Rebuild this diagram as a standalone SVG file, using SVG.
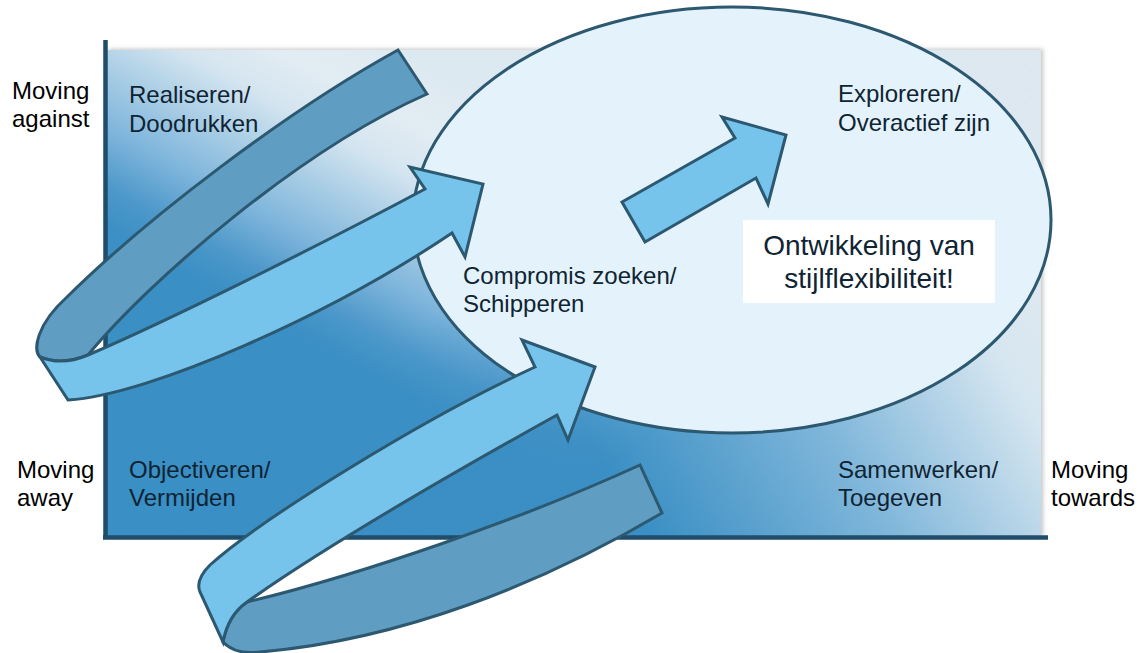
<svg xmlns="http://www.w3.org/2000/svg" width="1141" height="653" viewBox="0 0 1141 653">
<defs>
<style>
.lbl{font-family:"Liberation Sans",Arial,sans-serif;font-size:24px;fill:#0f2433}
.out{font-family:"Liberation Sans",Arial,sans-serif;font-size:24px;fill:#000}
.big{font-family:"Liberation Sans",Arial,sans-serif;font-size:28px;fill:#0f2433;text-anchor:middle}
.light{fill:#76c3ec;stroke:#2c5870;stroke-width:3;stroke-linejoin:miter}
.dark{fill:#5f9ec2;stroke:#2c5870;stroke-width:3;stroke-linejoin:miter}
.axis{stroke:#1f4d6a;stroke-width:4.5;fill:none}
</style>
<linearGradient id="bgBase" gradientUnits="userSpaceOnUse" x1="650" y1="540" x2="1045" y2="300">
<stop offset="0" stop-color="#3a8fc4"/>
<stop offset="0.45" stop-color="#7fb6da"/>
<stop offset="0.85" stop-color="#d6e6f0"/>
<stop offset="1" stop-color="#dde8f0"/>
</linearGradient>
<linearGradient id="bgTop" gradientUnits="userSpaceOnUse" x1="38" y1="192" x2="182" y2="-72">
<stop offset="0" stop-color="#3a8fc4"/>
<stop offset="0.123" stop-color="#4d98ca"/>
<stop offset="0.3" stop-color="#80b6dc"/>
<stop offset="0.467" stop-color="#a8cde5"/>
<stop offset="0.643" stop-color="#d5e5f0"/>
<stop offset="0.8" stop-color="#e2ecf3"/>
<stop offset="1" stop-color="#dde9f1"/>
</linearGradient>
<linearGradient id="mg" gradientUnits="userSpaceOnUse" x1="450" y1="300" x2="600" y2="480">
<stop offset="0" stop-color="#fff"/>
<stop offset="1" stop-color="#000"/>
</linearGradient>
<mask id="topMask" maskUnits="userSpaceOnUse" x="0" y="0" width="1141" height="653">
<rect x="0" y="0" width="1141" height="653" fill="url(#mg)"/>
</mask>
<filter id="sh" x="-5%" y="-5%" width="110%" height="110%">
<feDropShadow dx="2" dy="-1" stdDeviation="2" flood-color="#888" flood-opacity="0.5"/>
</filter>
</defs>

<g id="background">
<rect x="107" y="50" width="934" height="487" fill="url(#bgBase)" filter="url(#sh)"/>
<rect x="107" y="50" width="934" height="487" fill="url(#bgTop)" mask="url(#topMask)"/>
</g>

<g id="axes">
<line class="axis" x1="105.5" y1="40" x2="105.5" y2="539"/>
<line class="axis" x1="103" y1="537.5" x2="1048" y2="537.5"/>
</g>

<g id="ellipse-node">
<ellipse cx="732" cy="220" rx="319" ry="213" fill="#e4f2fb" stroke="#2c5870" stroke-width="3"/>
</g>

<g id="connectors">
<g id="arrow-top">
<path class="dark" d="M398,50 L427,94 C300,150 150,280 88,355 Q62,366 40,357 C33,350 36,325 67,297 C145,220 285,112 398,50 Z"/>
<path class="light" d="M425,189 C320,245 170,320 88,355 Q62,366 40,357 L68,400 C150,395 330,315 452,233 L465,257 L483,184 L410,167 Z"/>
</g>
<g id="arrow-bottom">
<path class="dark" d="M223,642 Q235,655 260,652 C400,640 540,585 662,513 L640,465 C520,520 360,575 247,602 Q228,615 223,642 Z"/>
<path class="light" d="M535,367 C420,420 260,520 210,565 Q195,580 200,592 L223,642 Q228,615 247,602 C320,550 440,480 557,415 L568,440 L595,367 L522,340 Z"/>
</g>
<g id="arrow-middle">
<path class="light" d="M622,202 L735,138 L722,117 L786,135 L768,204 L756,178 L645,242 Z"/>
</g>
</g>

<g id="axis-labels">
<text class="out" x="12" y="99">Moving</text>
<text class="out" x="12" y="127">against</text>
<text class="out" x="17" y="478">Moving</text>
<text class="out" x="17" y="506">away</text>
<text class="out" x="1051" y="478">Moving</text>
<text class="out" x="1051" y="506">towards</text>
</g>

<g id="node-realiseren">
<text class="lbl" x="129" y="103">Realiseren/</text>
<text class="lbl" x="129" y="132">Doodrukken</text>
</g>
<g id="node-objectiveren">
<text class="lbl" x="129" y="478">Objectiveren/</text>
<text class="lbl" x="129" y="506">Vermijden</text>
</g>
<g id="node-samenwerken">
<text class="lbl" x="838" y="478">Samenwerken/</text>
<text class="lbl" x="838" y="506">Toegeven</text>
</g>
<g id="node-exploreren">
<text class="lbl" x="838" y="102">Exploreren/</text>
<text class="lbl" x="838" y="131">Overactief zijn</text>
</g>
<g id="node-compromis">
<text class="lbl" x="463" y="284">Compromis zoeken/</text>
<text class="lbl" x="463" y="312">Schipperen</text>
</g>
<g id="node-flex">
<rect x="743" y="220" width="252" height="83" fill="#ffffff"/>
<text class="big" x="869" y="255">Ontwikkeling van</text>
<text class="big" x="869" y="288">stijlflexibiliteit!</text>
</g>
</svg>
